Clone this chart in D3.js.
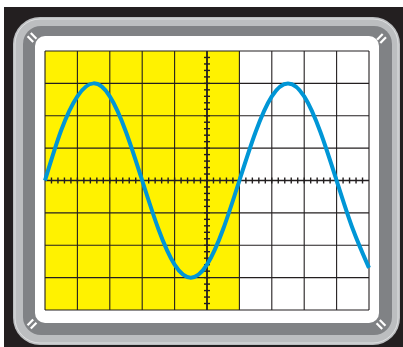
<!DOCTYPE html>
<html>
<head>
<meta charset="utf-8">
<script src="https://d3js.org/d3.v7.min.js"></script>
<style>
  body { margin: 0; background: white; }
</style>
</head>
<body>
<div id="scope"></div>
<script>
// trace, in divisions
var traceX = [0, 0.5, 1, 1.5, 2, 2.5, 3, 3.5, 4, 4.5, 5, 5.5, 6, 6.5, 7, 7.5, 8, 8.5, 9, 9.5, 10];
var traceY = [0, 1.55, 2.6, 3.0, 2.6, 1.5, 0, -1.5, -2.6, -3.0, -2.6, -1.5, 0, 1.5, 2.6, 3.0, 2.6, 1.5, 0, -1.5, -2.7];
var xDivs = [0, 1, 2, 3, 4, 5, 6, 7, 8, 9, 10];
var yDivs = [-4, -3, -2, -1, 0, 1, 2, 3, 4];
var yellowSpan = [0, 6];

function main() {
    const canvasWidth = 403;
    const canvasHeight = 347;

    var svg = d3.select("#scope").append("svg")
        .attr("width", canvasWidth)
        .attr("height", canvasHeight)

    var x = d3.scaleLinear().domain([0, 10]).range([45, 369]);
    var y = d3.scaleLinear().domain([-4, 4]).range([310, 51]);

    // bezel
    svg.append("rect")
        .attr("x", 4).attr("y", 7)
        .attr("width", 399).attr("height", 340)
        .style("fill", "#231f20")
    svg.append("rect")
        .attr("x", 13).attr("y", 17)
        .attr("width", 387).attr("height", 328)
        .attr("rx", 27)
        .style("fill", "#bcbec0")
    svg.append("rect")
        .attr("x", 15).attr("y", 19)
        .attr("width", 383).attr("height", 324)
        .attr("rx", 25)
        .style("fill", "none")
        .style("stroke", "#e6e7e8")
        .style("stroke-width", 0.8)
    svg.append("rect")
        .attr("x", 23).attr("y", 26)
        .attr("width", 369).attr("height", 309)
        .attr("rx", 18)
        .style("fill", "#808285")
    svg.append("rect")
        .attr("x", 35).attr("y", 36)
        .attr("width", 344).attr("height", 287)
        .attr("rx", 10)
        .style("fill", "white")

    // little marks at the corners
    var marks = [[32, 37.5, 45], [381.5, 38.5, -45], [32, 324, -45], [381, 324.5, 45]];
    marks.forEach(function (m) {
        var g = svg.append("g")
            .attr("transform", "translate(" + m[0] + "," + m[1] + ") rotate(" + m[2] + ")")
        g.selectAll("line")
            .data([-2.3, 2.3])
            .enter()
            .append("line")
            .attr("x1", -4).attr("x2", 4)
            .attr("y1", function (d) { return d; })
            .attr("y2", function (d) { return d; })
            .style("stroke", "white")
            .style("stroke-width", 2.2)
    });

    // yellow half of the screen
    svg.append("rect")
        .attr("x", x(yellowSpan[0])).attr("y", y(4))
        .attr("width", x(yellowSpan[1]) - x(yellowSpan[0]))
        .attr("height", y(-4) - y(4))
        .style("fill", "#fff200")

    // grid
    svg.selectAll(".vline")
        .data(xDivs)
        .enter()
        .append("line")
        .attr("x1", function (d) { return x(d); })
        .attr("x2", function (d) { return x(d); })
        .attr("y1", y(4)).attr("y2", y(-4))
        .style("stroke", "#231f20")
        .style("stroke-width", 1.1)
    svg.selectAll(".hline")
        .data(yDivs)
        .enter()
        .append("line")
        .attr("y1", function (d) { return y(d); })
        .attr("y2", function (d) { return y(d); })
        .attr("x1", x(0)).attr("x2", x(10))
        .style("stroke", "#231f20")
        .style("stroke-width", 1.1)

    // centre axes with minor ticks
    svg.append("line")
        .attr("x1", x(0)).attr("x2", x(10))
        .attr("y1", y(0)).attr("y2", y(0))
        .style("stroke", "#231f20")
        .style("stroke-width", 1.6)
    svg.append("line")
        .attr("x1", x(5)).attr("x2", x(5))
        .attr("y1", y(4)).attr("y2", y(-4))
        .style("stroke", "#231f20")
        .style("stroke-width", 1.6)

    var minorX = d3.range(0, 50).map(function (i) { return i / 5; }).filter(function (d) { return d > 0; });
    var minorY = d3.range(-20, 20).map(function (i) { return i / 5; }).filter(function (d) { return d > -4; });

    svg.selectAll(".tickx")
        .data(minorX)
        .enter()
        .append("line")
        .attr("x1", function (d) { return x(d); })
        .attr("x2", function (d) { return x(d); })
        .attr("y1", y(0) - 3).attr("y2", y(0) + 3)
        .style("stroke", "#231f20")
        .style("stroke-width", 1.4)
    svg.selectAll(".ticky")
        .data(minorY)
        .enter()
        .append("line")
        .attr("y1", function (d) { return y(d); })
        .attr("y2", function (d) { return y(d); })
        .attr("x1", x(5) - 3).attr("x2", x(5) + 3)
        .style("stroke", "#231f20")
        .style("stroke-width", 1.4)

    // the trace
    var line = d3.line()
        .x(function (d) { return x(d[0]); })
        .y(function (d) { return y(d[1]); })
        .curve(d3.curveNatural);

    svg.append("path")
        .datum(d3.zip(traceX, traceY))
        .attr("d", line)
        .style("fill", "none")
        .style("stroke", "#0096d6")
        .style("stroke-width", 4)
}
main();
</script>
</body>
</html>
